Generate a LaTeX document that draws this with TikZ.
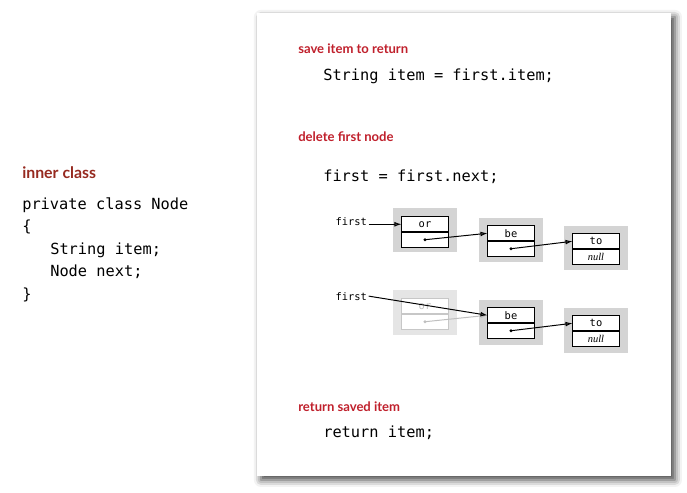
\documentclass[tikz,border=0pt]{standalone}
\usepackage{fontspec}
\newfontfamily\headfont{Lato}
\newfontfamily\codefont{DejaVu Sans Mono}
\newfontfamily\nilfont{Liberation Serif}
\usetikzlibrary{positioning,arrows.meta,shadows.blur}
\definecolor{headred}{RGB}{192,32,44}
\definecolor{innerred}{RGB}{150,42,32}
\definecolor{boxgray}{RGB}{212,212,212}

\tikzset{
  head/.style={anchor=base west,inner sep=0pt,text=headred,
    font=\headfont\bfseries\fontsize{9.3}{11}\selectfont},
  code/.style={anchor=base west,inner sep=0pt,
    font=\codefont\fontsize{10.9}{13}\selectfont},
  ptrname/.style={anchor=base west,inner sep=1pt,
    font=\codefont\fontsize{7.4}{9}\selectfont},
  backbox/.style={fill=boxgray,minimum width=46pt,minimum height=32pt,inner sep=0pt},
  itembox/.style={draw,fill=white,line width=0.8pt,outer sep=0pt,inner sep=0pt,
    minimum width=33.4pt,minimum height=11pt,
    font=\codefont\fontsize{7.4}{9}\selectfont},
  link/.style={-{Latex[length=5pt,width=3.4pt]},line width=0.7pt},
  faded/.style={draw=black!22,text=black!25},
}

\begin{document}
\begin{tikzpicture}[x=0.025cm,y=-0.025cm]
  \useasboundingbox (0,0) rectangle (687,493);
  % panel
  \fill[white,blur shadow={shadow xshift=2.8pt,shadow yshift=-2.8pt,
    shadow blur radius=5pt,shadow opacity=75}] (257,13) rectangle (671,476);

  % left: the inner class
  \node[head,text=innerred,font=\headfont\bfseries\fontsize{11.3}{13}\selectfont] (inner) at (22,179) {inner class};
  \node[code] (c1) at (22,209) {private class Node};
  \node[code] (c2) at (22,231) {\{};
  \node[code] (c3) at (50,254) {String item;};
  \node[code] (c4) at (50,276) {Node next;};
  \node[code] (c5) at (22,299) {\}};

  % right: the steps
  \node[head] (save) at (298,54) {save item to return};
  \node[code] (s1) at (323,80) {String item = first.item;};
  \node[head] (del) at (298,141) {delete first node};
  \node[code] (s2) at (323,181) {first = first.next;};
  \node[head] (ret) at (298,411) {return saved item};
  \node[code] (s3) at (323,437) {return item;};

  % list before
  \node[backbox] (g1) at (425,230) {};
  \node[backbox] (g2) at (511,240) {};
  \node[backbox] (g3) at (596,248) {};
  \node[itembox,anchor=south] (or) at (425,232) {or};
  \node[itembox,below=0pt of or] (orn) {};
  \node[itembox,anchor=south] (be) at (511,241) {be};
  \node[itembox,below=0pt of be] (ben) {};
  \node[itembox,anchor=south] (to) at (596,249) {to};
  \node[itembox,below=0pt of to,font=\nilfont\itshape\fontsize{7.4}{9}\selectfont] (ton) {null};
  \node[ptrname] (f1) at (334,225) {first};
  \draw[link] (f1.east |- or.west) -- (or.west);
  \fill (orn.center) circle (1.1pt);
  \draw[link] (orn.center) -- (be.west);
  \fill (ben.center) circle (1.1pt);
  \draw[link] (ben.center) -- (to.west);

  % list after
  \begin{scope}[shift={(0,82)}]
    \node[backbox,fill=black!10] (h1) at (425,230) {};
    \node[backbox] (h2) at (511,240) {};
    \node[backbox] (h3) at (596,248) {};
    \node[itembox,faded,anchor=south] (or2) at (425,232) {or};
    \node[itembox,faded,below=0pt of or2] (orn2) {};
    \node[itembox,anchor=south] (be2) at (511,241) {be};
    \node[itembox,below=0pt of be2] (ben2) {};
    \node[itembox,anchor=south] (to2) at (596,249) {to};
    \node[itembox,below=0pt of to2,font=\nilfont\itshape\fontsize{7.4}{9}\selectfont] (ton2) {null};
    \fill[black!25] (orn2.center) circle (1.1pt);
    \draw[link,black!25] (orn2.center) -- (be2.west);
    \node[ptrname] (f2) at (334,218) {first};
    \draw[link] (f2.east) -- (be2.west);
    \fill (ben2.center) circle (1.1pt);
    \draw[link] (ben2.center) -- (to2.west);
  \end{scope}
\end{tikzpicture}
\end{document}
